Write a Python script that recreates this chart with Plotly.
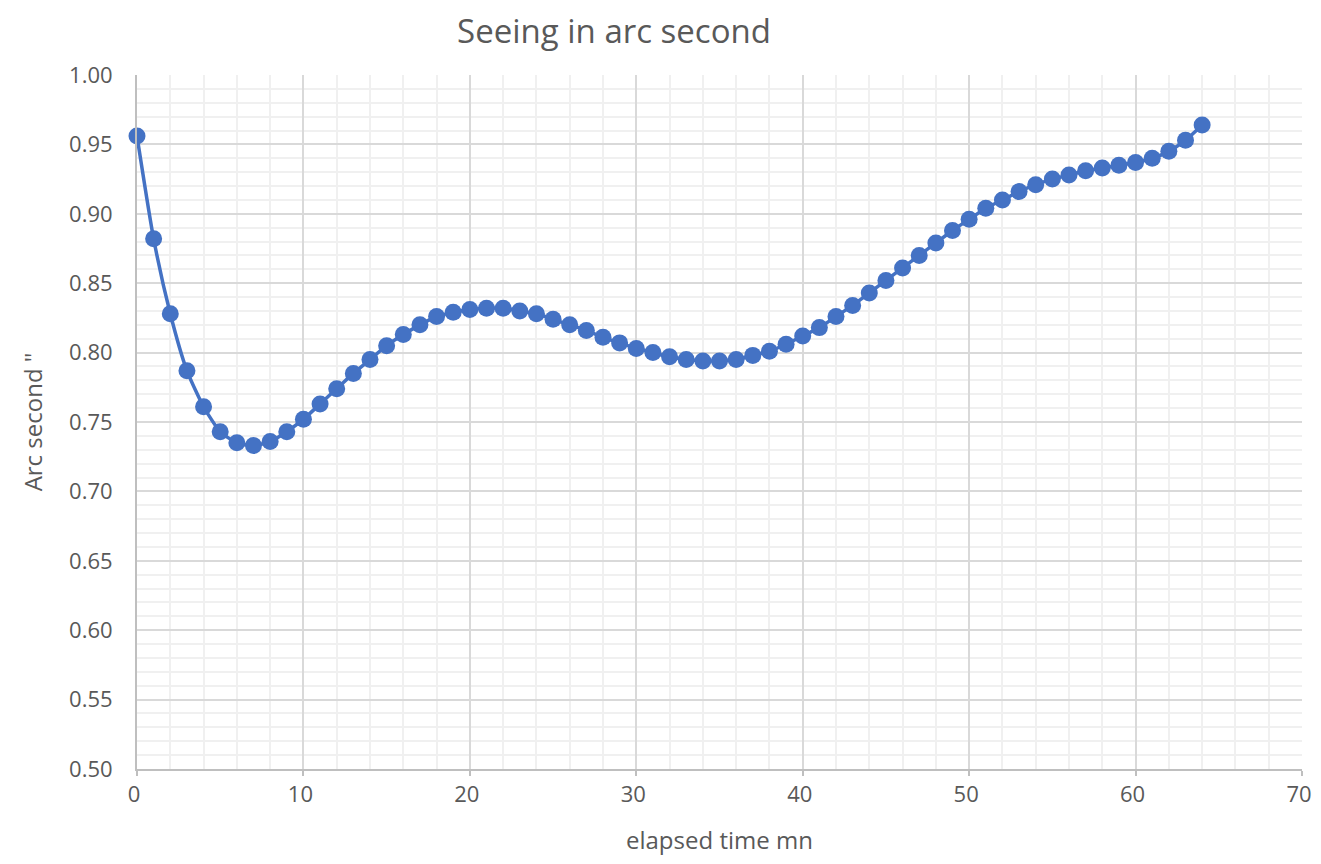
import plotly.graph_objects as go

elapsed_min = list(range(65))
seeing_arcsec = [
    0.956, 0.882, 0.828, 0.787, 0.761, 0.743, 0.735, 0.733, 0.736, 0.743,
    0.752, 0.763, 0.774, 0.785, 0.795, 0.805, 0.813, 0.820, 0.826, 0.829,
    0.831, 0.832, 0.832, 0.830, 0.828, 0.824, 0.820, 0.816, 0.811, 0.807,
    0.803, 0.800, 0.797, 0.795, 0.794, 0.794, 0.795, 0.798, 0.801, 0.806,
    0.812, 0.818, 0.826, 0.834, 0.843, 0.852, 0.861, 0.870, 0.879, 0.888,
    0.896, 0.904, 0.910, 0.916, 0.921, 0.925, 0.928, 0.931, 0.933, 0.935,
    0.937, 0.940, 0.945, 0.953, 0.964,
]

y_ticks = [0.50, 0.55, 0.60, 0.65, 0.70, 0.75, 0.80, 0.85, 0.90, 0.95, 1.00]
x_ticks = [0, 10, 20, 30, 40, 50, 60, 70]

FONT = "Open Sans, Noto Sans, sans-serif"
TXT = "#595959"
W, H = 1305, 848

fig = go.Figure()
fig.add_trace(go.Scatter(
    x=elapsed_min, y=seeing_arcsec, mode="lines+markers",
    line=dict(color="#4472C4", width=3.5, shape="spline", smoothing=0.6),
    marker=dict(color="#4472C4", size=17),
    showlegend=False, cliponaxis=False,
))

fig.update_layout(
    width=W, height=H,
    margin=dict(l=129, r=11, t=67, b=87, autoexpand=False),
    paper_bgcolor="white", plot_bgcolor="white",
    font=dict(family=FONT, color=TXT, size=22),
    title=dict(text="Seeing in arc second", x=606/W, xanchor="center",
               y=1 - 23/H, yanchor="middle",
               font=dict(family=FONT, size=33, color=TXT)),
)
fig.add_annotation(
    text="elapsed time mn", xref="paper", yref="paper", x=0.5, y=0,
    xanchor="center", yanchor="middle", yshift=-70, showarrow=False,
    font=dict(family=FONT, size=24, color=TXT),
)
fig.update_xaxes(
    range=[0, 70], tickvals=x_ticks, ticktext=[str(v) for v in x_ticks],
    showgrid=True, gridcolor="#d9d9d9", gridwidth=1.5,
    minor=dict(dtick=2, tick0=0, showgrid=True, gridcolor="#f0f0f0", gridwidth=1.5),
    showline=True, linecolor="#bfbfbf", linewidth=2,
    ticks="outside", ticklen=5, tickcolor="#bfbfbf", tickwidth=2,
    zeroline=False, automargin=False, ticklabeloverflow="allow",
    ticklabelshift=-3,
    tickfont=dict(size=22, color=TXT),
)
fig.update_yaxes(
    range=[0.50, 1.00], tickvals=y_ticks, ticktext=[f"{v:.2f}" for v in y_ticks],
    showgrid=True, gridcolor="#d9d9d9", gridwidth=1.5,
    minor=dict(dtick=0.01, showgrid=True, gridcolor="#f0f0f0", gridwidth=1.5),
    showline=True, linecolor="#bfbfbf", linewidth=2,
    ticks="", zeroline=False, automargin=False, ticklabelstandoff=18,
    tickfont=dict(size=22, color=TXT),
    title=dict(text='Arc second "', font=dict(size=24, color=TXT), standoff=20),
)
fig.write_html("out.html")
